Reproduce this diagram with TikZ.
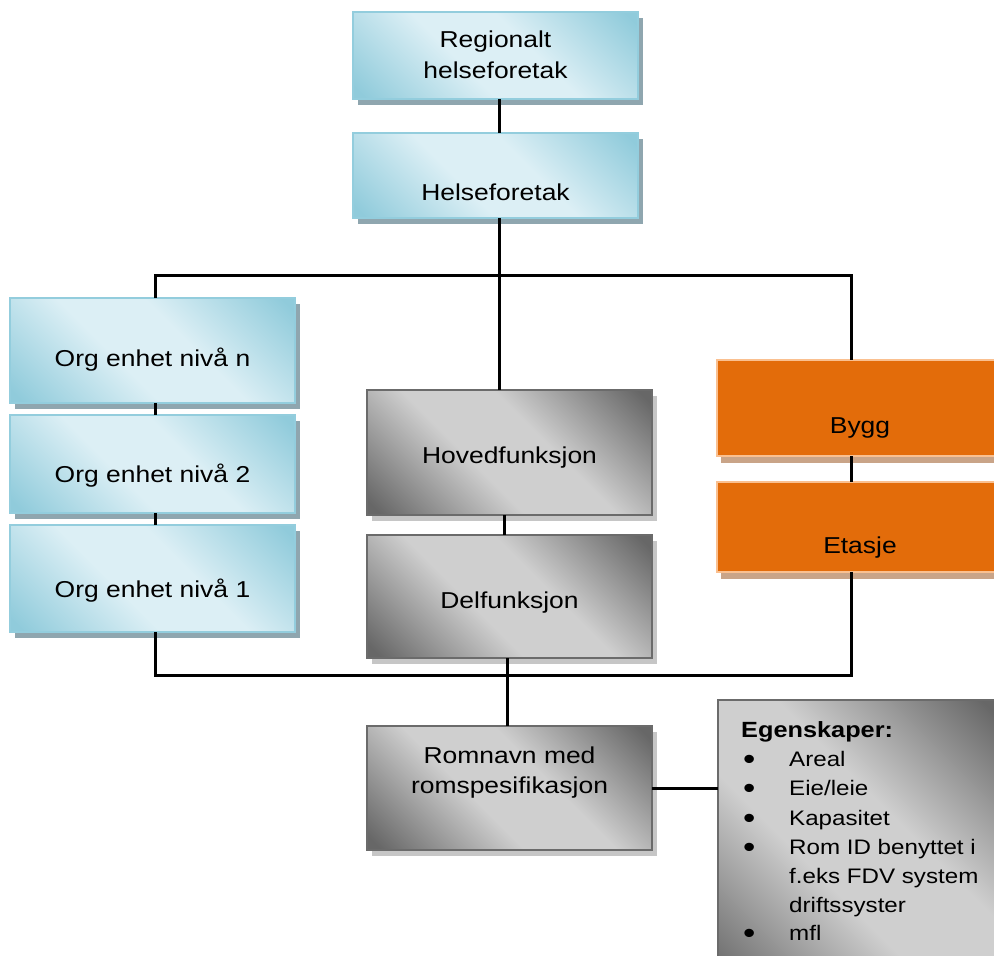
\documentclass[tikz,border=0pt]{standalone}
\usepackage{fontspec}
\setmainfont{Liberation Sans}[FakeStretch=1.15]
\definecolor{bluelight}{HTML}{DCEFF5}
\definecolor{bluedark}{HTML}{90CBDB}
\definecolor{blueborder}{HTML}{93CDDD}
\definecolor{blueshadow}{HTML}{8FA6AF}
\definecolor{graylight}{HTML}{CFCFCF}
\definecolor{graydark}{HTML}{676767}
\definecolor{grayborder}{HTML}{6B6B6B}
\definecolor{grayshadow}{HTML}{C6C6C6}
\definecolor{orangefill}{HTML}{E36C0A}
\definecolor{orangeborder}{HTML}{FAC090}
\definecolor{orangeshadow}{HTML}{C9A488}
\pgfdeclarehorizontalshading{blueshade}{100bp}{color(0bp)=(bluedark); color(17bp)=(bluedark); color(42bp)=(bluelight); color(58bp)=(bluelight); color(83bp)=(bluedark); color(100bp)=(bluedark)}
\pgfdeclarehorizontalshading{grayshade}{100bp}{color(0bp)=(graydark); color(17bp)=(graydark); color(42bp)=(graylight); color(58bp)=(graylight); color(83bp)=(graydark); color(100bp)=(graydark)}
\tikzset{
  box/.style={rectangle, inner sep=0pt, outer sep=0pt, line width=2pt},
  bluebox/.style={box, draw=blueborder, shading=blueshade, shading angle=45,
    preaction={fill=blueshadow, transform canvas={shift={(5pt,-6pt)}}}},
  graybox/.style={box, draw=grayborder, shading=grayshade, shading angle=45,
    preaction={fill=grayshadow, transform canvas={shift={(5pt,-6pt)}}}},
  orangebox/.style={box, draw=orangeborder, fill=orangefill,
    preaction={fill=orangeshadow, transform canvas={shift={(4pt,-7pt)}}}},
  txt/.style={font=\fontsize{23}{30}\selectfont, inner sep=0pt, anchor=base},
  eg/.style={font=\fontsize{21}{28}\selectfont, inner sep=0pt, anchor=base west},
  egb/.style={font=\fontsize{22}{28}\selectfont\bfseries, inner sep=0pt, anchor=base west},
  conn/.style={line width=3pt, black},
}
\newcommand{\egbullet}{\makebox[46pt][l]{\raisebox{-3.5pt}{\scalebox{1.45}{\textbullet}}}}
\begin{document}
\begin{tikzpicture}[x=1pt,y=-1pt]
\useasboundingbox (0,0) rectangle (994,956);
\clip (0,0) rectangle (994,956);

% boxes
\node[bluebox, minimum width=285pt, minimum height=87pt] (reg) at (495.5,55.5) {};
\node[bluebox, minimum width=285pt, minimum height=85pt] (hf) at (495.5,175.5) {};
\node[bluebox, minimum width=285pt, minimum height=105pt] (on) at (152.5,350.5) {};
\node[bluebox, minimum width=285pt, minimum height=98pt] (o2) at (152.5,464) {};
\node[bluebox, minimum width=285pt, minimum height=107pt] (o1) at (152.5,578.5) {};
\node[graybox, minimum width=285pt, minimum height=125pt] (hov) at (509.5,452.5) {};
\node[graybox, minimum width=285pt, minimum height=123pt] (del) at (509.5,596.5) {};
\node[orangebox, minimum width=286pt, minimum height=96pt] (bygg) at (860,408) {};
\node[orangebox, minimum width=286pt, minimum height=90pt] (etg) at (860,527) {};
\node[graybox, minimum width=285pt, minimum height=124pt] (rom) at (509.5,788) {};
\node[graybox, minimum width=285pt, minimum height=300pt] (egen) at (860.5,850) {};

% texts
\node[txt] (reg-t1) at (495.5,47) {Regionalt};
\node[txt] (reg-t2) at (495.5,78) {helseforetak};
\node[txt] (hf-t) at (495.5,200) {Helseforetak};
\node[txt] (on-t) at (152.5,366) {Org enhet nivå n};
\node[txt] (o2-t) at (152.5,482) {Org enhet nivå 2};
\node[txt] (o1-t) at (152.5,597) {Org enhet nivå 1};
\node[txt] (hov-t) at (509.5,463) {Hovedfunksjon};
\node[txt] (del-t) at (509.5,608) {Delfunksjon};
\node[txt] (bygg-t) at (860,433) {Bygg};
\node[txt] (etg-t) at (860,553) {Etasje};
\node[txt] (rom-t1) at (509.5,763) {Romnavn med};
\node[txt] (rom-t2) at (509.5,793) {romspesifikasjon};

\node[egb] (eg0) at (741,737) {Egenskaper:};
\node[eg] (eg1) at (743,766) {\egbullet Areal};
\node[eg] (eg2) at (743,795) {\egbullet Eie/leie};
\node[eg] (eg3) at (743,825) {\egbullet Kapasitet};
\node[eg] (eg4) at (743,854) {\egbullet Rom ID benyttet i};
\node[eg] (eg5) at (789,883) {f.eks FDV system};
\node[eg] (eg6) at (789,912) {driftssyster};
\node[eg] (eg7) at (743,940) {\egbullet mfl};

% connector coordinates
\coordinate (ct) at (499,275);
\coordinate (lt) at (155,275);
\coordinate (rt) at (851,275);
\coordinate (lb) at (155,675);
\coordinate (rb) at (851,675);
\coordinate (mx) at (504,0);
\coordinate (my) at (507,0);

% connectors
\draw[conn] (reg.south -| ct) -- (hf.north -| ct);
\draw[conn] (hf.south -| ct) -- (hov.north -| ct);
\draw[conn] (lt |- on.north) -- (lt) -- (rt) -- (rt |- bygg.north);
\draw[conn] (lt |- on.south) -- (lt |- o2.north);
\draw[conn] (lt |- o2.south) -- (lt |- o1.north);
\draw[conn] (lt |- o1.south) -- (lb) -- (rb) -- (rb |- etg.south);
\draw[conn] (rt |- bygg.south) -- (rt |- etg.north);
\draw[conn] (mx |- hov.south) -- (mx |- del.north);
\draw[conn] (my |- del.south) -- (my |- rom.north);
\draw[conn] (rom.east) -- (rom.east -| egen.west);
\end{tikzpicture}
\end{document}
